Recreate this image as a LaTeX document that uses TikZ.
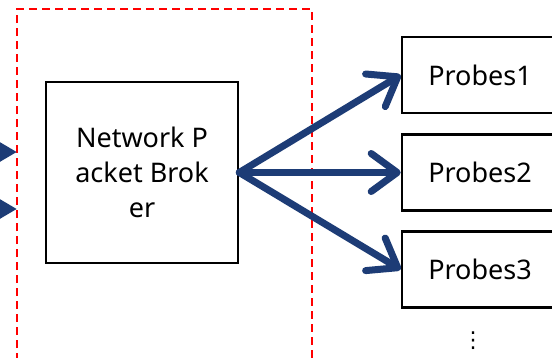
\documentclass[tikz,border=0pt]{standalone}
\usepackage{fontspec}
\setmainfont{Noto Sans}
\newfontfamily\symfont{DejaVu Sans}
\usetikzlibrary{arrows.meta}
\definecolor{navy}{RGB}{29,60,118}
\definecolor{dred}{RGB}{255,0,0}
\tikzset{
  box/.style={draw=black, line width=2.6pt, fill=white, inner sep=0pt, align=center,
    font=\fontsize{27}{35}\selectfont},
  probe/.style={box, minimum width=156pt, minimum height=76pt},
  fanout/.style={draw=navy, line width=7pt, line cap=round,
    -{Straight Barb[length=26pt, width=38pt, line cap=round, line join=round]}},
  incoming/.style={draw=navy, line width=7pt, -{Triangle[length=24pt, width=26pt]}},
  region/.style={draw=dred, line width=2pt, dash pattern=on 8pt off 5pt}
}
\begin{document}
\begin{tikzpicture}[x=1pt, y=-1pt]
\useasboundingbox (0,0) rectangle (552,357);
\clip (0,0) rectangle (552,357);
\fill[white] (0,0) rectangle (552,357);
\draw[region] (17,400) -- (17,9) -- (312,9) -- (312,400);
\node[box, minimum width=192pt, minimum height=181pt] (npb) at (142,172.5) {Network P\\acket Brok\\er};
\node[probe] (p1) at (480,75) {Probes1};
\node[probe] (p2) at (480,172.5) {Probes2};
\node[probe] (p3) at (480,269.5) {Probes3};
\node[font=\symfont\fontsize{22}{22}\selectfont, inner sep=0pt] (dots) at (473,341) {⋮};
\coordinate (a1s) at (-60,152);
\coordinate (a1) at (17,152);
\coordinate (a2s) at (-60,209);
\coordinate (a2) at (17,209);
\draw[incoming] (a1s) -- (a1);
\draw[incoming] (a2s) -- (a2);
\draw[fanout] (npb.east) -- (p1.west);
\draw[fanout] (npb.east) -- (p2.west);
\draw[fanout] (npb.east) -- (p3.west);
\end{tikzpicture}
\end{document}
